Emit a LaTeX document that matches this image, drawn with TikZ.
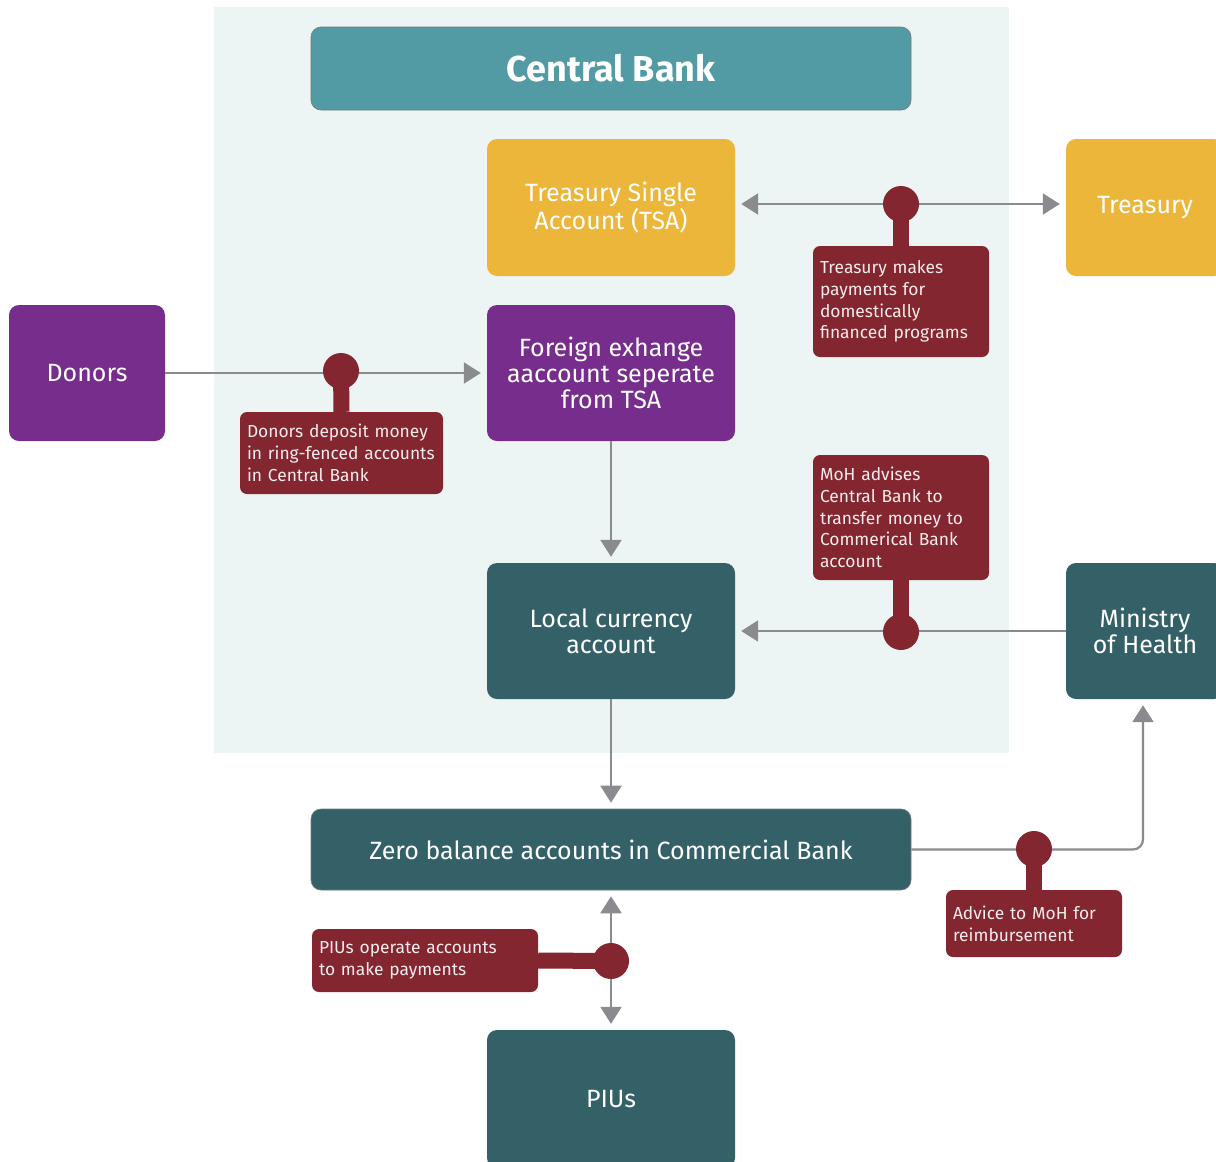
\documentclass[tikz,border=0pt]{standalone}
\usepackage{fontspec}
\setmainfont{Fira Sans}
\usetikzlibrary{arrows.meta}
\definecolor{panelBg}{HTML}{ECF5F4}
\definecolor{cbTeal}{HTML}{529AA4}
\definecolor{gold}{HTML}{EBB639}
\definecolor{purp}{HTML}{762D8B}
\definecolor{darkTeal}{HTML}{336167}
\definecolor{noteRed}{HTML}{832630}
\definecolor{noteText}{HTML}{F4ECEC}
\definecolor{arrowGray}{HTML}{8A8B8E}
\definecolor{edgeGray}{HTML}{6F7A7C}
\begin{document}
\begin{tikzpicture}[x=1pt,y=-1pt,
  box/.style={rectangle, rounded corners=10pt, inner sep=0pt, align=center, text=white,
    font=\fontsize{25}{26}\selectfont},
  note/.style={rectangle, rounded corners=7pt, fill=noteRed, text=noteText, align=left,
    inner xsep=7pt, inner ysep=0pt, font=\fontsize{17.4}{21.8}\selectfont},
  dot/.style={circle, fill=noteRed, minimum size=36pt, inner sep=0pt},
  stemline/.style={draw=noteRed, line width=16pt},
  flow/.style={draw=arrowGray, line width=2.2pt, -{Triangle[length=17pt,width=21pt]}, shorten >=6pt},
  biflow/.style={draw=arrowGray, line width=2.2pt, {Triangle[length=17pt,width=21pt]}-{Triangle[length=17pt,width=21pt]}, shorten >=6pt, shorten <=6pt},
  ]
\clip (0,0) rectangle (1216,1162);
\fill[white] (0,0) rectangle (1216,1162);
\fill[panelBg] (214,7) rectangle (1009,753);

% boxes
\node[box, fill=cbTeal, draw=edgeGray, line width=0.6pt, minimum width=600pt, minimum height=83pt,
  font=\fontsize{36}{40}\selectfont\bfseries] (cb) at (611,68.5) {Central Bank};
\node[box, fill=gold, minimum width=248pt, minimum height=137pt] (tsa) at (611,207.5) {\raisebox{-1pt}{Treasury Single}\\Account (TSA)};
\node[box, fill=gold, minimum width=158pt, minimum height=137pt] (treas) at (1145,207.5) {\raisebox{-3pt}{Treasury}};
\node[box, fill=purp, minimum width=248pt, minimum height=136pt] (fx) at (611,373) {Foreign exhange\\aaccount seperate\\from TSA};
\node[box, fill=purp, minimum width=156pt, minimum height=136pt] (donors) at (87,373) {Donors};
\node[box, fill=darkTeal, minimum width=248pt, minimum height=136pt] (local) at (611,631) {Local currency\\account};
\node[box, fill=darkTeal, minimum width=158pt, minimum height=136pt] (moh) at (1145,631) {Ministry\\of Health};
\node[box, fill=darkTeal, draw=edgeGray, line width=0.6pt, minimum width=600pt, minimum height=81pt] (zero) at (611,849.5) {Zero balance accounts in Commercial Bank};
\node[box, fill=darkTeal, minimum width=248pt, minimum height=138pt] (pius) at (611,1099) {PIUs};

% connectors
\draw[biflow] ([yshift=3.5pt]tsa.east) -- ([yshift=3.5pt]treas.west);
\draw[flow] (donors.east) -- (fx.west);
\draw[flow] (fx.south) -- (local.north);
\draw[flow] (moh.west) -- (local.east);
\draw[flow] (local.south) -- (zero.north);
\draw[flow, rounded corners=10pt] (zero.east) -| ([xshift=-2pt]moh.south);
\draw[biflow] (zero.south) -- (pius.north);

% notes
\node[note, text width=162pt, minimum height=111pt] (ntreas) at (901,301.5) {Treasury makes\\payments for\\domestically\\financed programs};
\node[note, text width=189pt, minimum height=82pt] (ndon) at (341.5,453) {Donors deposit money\\in ring-fenced accounts\\in Central Bank};
\node[note, text width=162pt, minimum height=125pt] (nmoh) at (901,517.5) {MoH advises\\Central Bank to\\transfer money to\\Commerical Bank\\account};
\node[note, text width=162pt, minimum height=67pt] (nadv) at (1034,923.5) {Advice to MoH for\\reimbursement};
\node[note, text width=212pt, minimum height=63pt] (npiu) at (425,960.5) {PIUs operate accounts\\to make payments};

% dots
\node[dot] (d1) at (901,204) {};
\node[dot] (d2) at (341,371) {};
\node[dot] (d3) at (901,632) {};
\node[dot] (d4) at (1034,849) {};
\node[dot] (d5) at (611,961) {};

% stems
\draw[stemline] (d1.center) -- (ntreas.north);
\draw[stemline] (d2.center) -- (ndon.north);
\draw[stemline] (d3.center) -- (nmoh.south);
\draw[stemline] (d4.center) -- (nadv.north);
\draw[stemline] (d5.center) -- (npiu.east);
\end{tikzpicture}
\end{document}
